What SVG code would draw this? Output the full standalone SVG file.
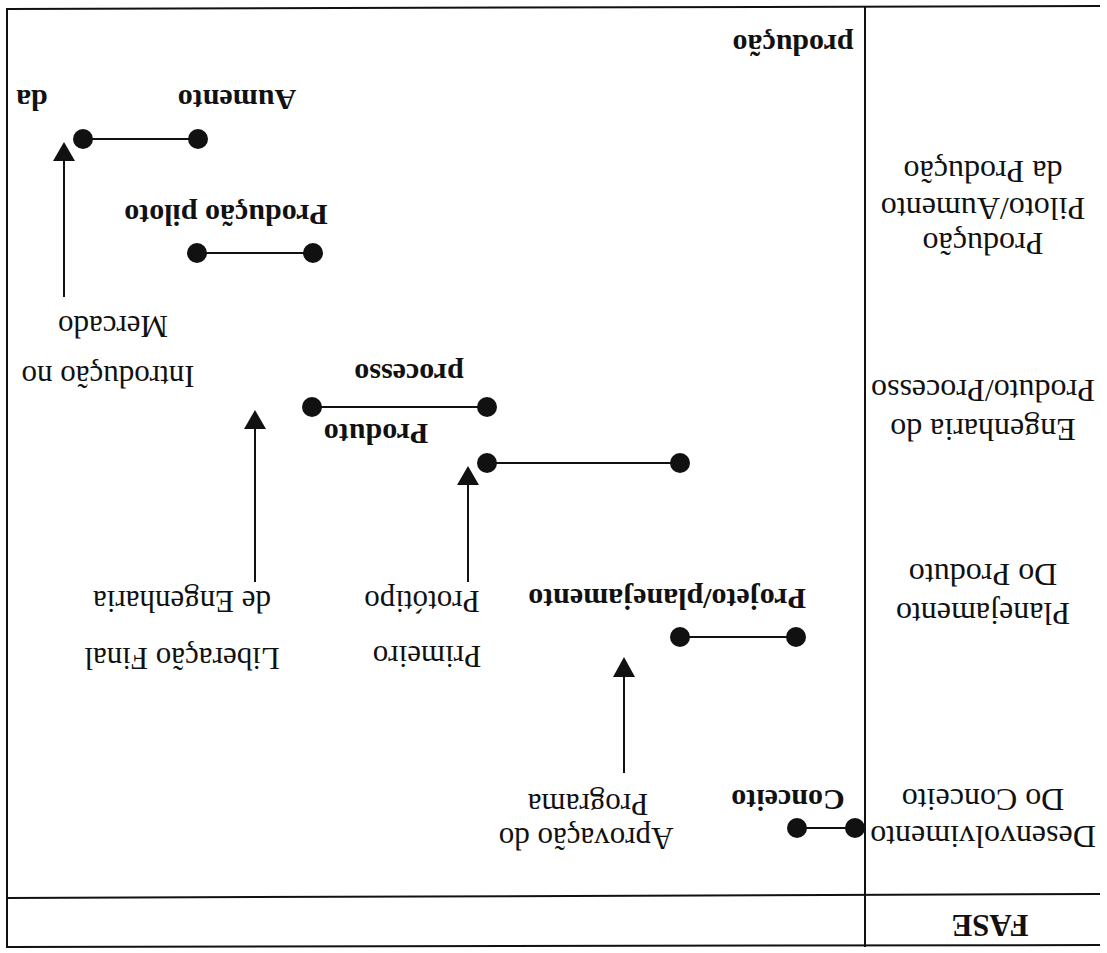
<svg xmlns="http://www.w3.org/2000/svg" width="1107" height="953" viewBox="0 0 1107 953">
  <style>
    .frame { stroke: #111; stroke-width: 2; fill: none; }
    .bar { stroke: #111; stroke-width: 2.2; fill: none; }
    .dot { fill: #111; }
    .arrow { stroke: #111; stroke-width: 2; fill: none; }
    .head { fill: #111; }
    text { font-family: "Liberation Serif", "Times New Roman", serif; font-size: 31px; fill: #111; text-anchor: middle; }
    .b { font-weight: bold; font-size: 30px; }
    .col { font-size: 32px; }
  </style>
  <rect width="1107" height="953" fill="#fff"/>

  <!-- table frame -->
  <g id="frame">
    <line class="frame" x1="7" y1="9" x2="1100" y2="6"/>
    <line class="frame" x1="7" y1="947" x2="1100" y2="945"/>
    <line class="frame" x1="7" y1="8" x2="7" y2="948"/>
    <line class="frame" x1="865" y1="6" x2="865" y2="947"/>
    <line class="frame" x1="7" y1="898" x2="1100" y2="894"/>
  </g>

  <!-- phase bars and milestone arrows -->
  <g id="connectors">
    <line class="bar" x1="83" y1="139" x2="198" y2="139"/>
    <line class="bar" x1="197" y1="253" x2="313" y2="253"/>
    <line class="bar" x1="312" y1="407" x2="487" y2="407"/>
    <line class="bar" x1="487" y1="463" x2="680" y2="463"/>
    <line class="bar" x1="680" y1="637" x2="796" y2="637"/>
    <line class="bar" x1="797" y1="828" x2="855" y2="828"/>

    <line class="arrow" x1="64" y1="158" x2="64" y2="297" stroke="#555"/>
    <polygon class="head" points="64,142 53,161 75,161"/>
    <line class="arrow" x1="255" y1="426" x2="255" y2="582"/>
    <polygon class="head" points="255,410 244,429 266,429"/>
    <line class="arrow" x1="468" y1="482" x2="468" y2="582"/>
    <polygon class="head" points="468,466 457,485 479,485"/>
    <line class="arrow" x1="624" y1="674" x2="624" y2="773"/>
    <polygon class="head" points="624,657 613,677 635,677"/>
  </g>

  <g id="dots">
    <circle class="dot" cx="83" cy="139" r="10"/>
    <circle class="dot" cx="198" cy="139" r="10"/>
    <circle class="dot" cx="197" cy="253" r="10"/>
    <circle class="dot" cx="313" cy="253" r="10"/>
    <circle class="dot" cx="312" cy="407" r="10"/>
    <circle class="dot" cx="487" cy="407" r="10"/>
    <circle class="dot" cx="487" cy="463" r="10"/>
    <circle class="dot" cx="680" cy="463" r="10"/>
    <circle class="dot" cx="680" cy="637" r="10"/>
    <circle class="dot" cx="796" cy="637" r="10"/>
    <circle class="dot" cx="797" cy="828" r="10"/>
    <circle class="dot" cx="855" cy="828" r="10"/>
  </g>

  <!-- all lettering is printed upside down -->
  <g id="labels" transform="rotate(180 553.5 476.5)">
    <g id="phase-column">
      <text class="b" x="117" y="38" style="font-size:31px">FASE</text>
      <text class="col" x="124" y="127">Desenvolvimento</text>
      <text class="col" x="124" y="164">Do Conceito</text>
      <text class="col" x="124" y="350">Planejamento</text>
      <text class="col" x="124" y="389">Do Produto</text>
      <text class="col" x="124" y="534">Engenharia do</text>
      <text class="col" x="124" y="573">Produto/Processo</text>
      <text class="col" x="124" y="720">Produção</text>
      <text class="col" x="124" y="755">Piloto/Aumento</text>
      <text class="col" x="124" y="792">da Produção</text>
    </g>
    <g id="phase-labels">
      <text class="b" x="319" y="163">Conceito</text>
      <text class="b" x="440" y="364">Projeto/planejamento</text>
      <text class="b" x="731" y="529">Produto</text>
      <text class="b" x="698" y="589">processo</text>
      <text class="b" x="881" y="748">Produção piloto</text>
      <text class="b" x="870" y="863">Aumento</text>
      <text class="b" x="1075" y="863">da</text>
      <text class="b" x="314" y="918">produção</text>
    </g>
    <g id="milestones">
      <text x="521" y="125">Aprovação do</text>
      <text x="519" y="159">Programa</text>
      <text x="680" y="307">Primeiro</text>
      <text x="685" y="362">Protótipo</text>
      <text x="925" y="305">Liberação Final</text>
      <text x="925" y="362">de Engenharia</text>
      <text x="999" y="587">Introdução no</text>
      <text x="994" y="637">Mercado</text>
    </g>
  </g>
</svg>
